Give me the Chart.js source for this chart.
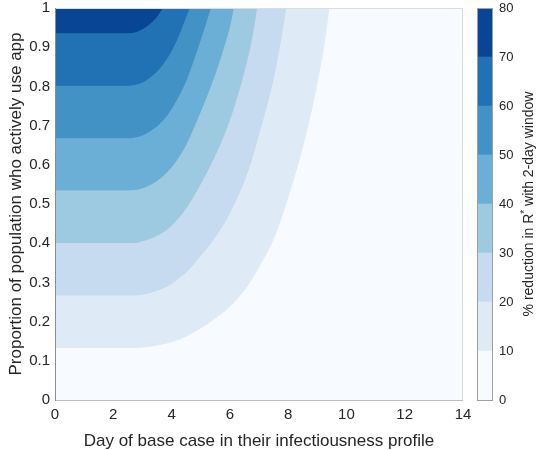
<!DOCTYPE html>
<html lang="en">
<head>
<meta charset="UTF-8">
<title>App use and reduction in R*</title>
<script src="https://cdn.jsdelivr.net/npm/chart.js"></script>
<style>
  body { margin: 0; background: #fff; }
  .wrap { position: relative; width: 536px; height: 450px; overflow: hidden; }
  #contour { position: absolute; left: 0; top: -5px; }
  #scaleBar { position: absolute; left: 470px; top: -5px; }
</style>
</head>
<body>
<div class="wrap">
  <canvas id="contour" width="479" height="455"></canvas>
  <canvas id="scaleBar" width="66" height="455"></canvas>
</div>
<script>
// axis ticks
const dayTicks = [0, 2, 4, 6, 8, 10, 12, 14];
const shareTicks = [0, 0.1, 0.2, 0.3, 0.4, 0.5, 0.6, 0.7, 0.8, 0.9, 1];
const levelTicks = [0, 10, 20, 30, 40, 50, 60, 70, 80];

// one colour per 10% band, lowest first
const bandColors = ['#f7fbff', '#deebf7', '#c6dbef', '#9ecae1', '#6baed6', '#4292c6', '#2171b5', '#084594'];

// contour edges: share of app users at which each % level is reached, by day
const edgeLevels = [10, 20, 30, 40, 50, 60, 70];
const edgeDays = [0, 2.5, 2.75, 3, 3.25, 3.5, 3.75, 4, 4.25, 4.5, 4.75, 5, 5.25, 5.5, 5.75,
                  6, 6.25, 6.5, 6.75, 7, 7.25, 7.5, 7.75, 8, 8.25, 8.5, 8.75, 9, 9.25];
const edge10 = [0.134, 0.134, 0.134, 0.135, 0.137, 0.140, 0.144, 0.149, 0.155, 0.163, 0.173, 0.184, 0.196, 0.209, 0.223,
                0.239, 0.259, 0.281, 0.308, 0.341, 0.374, 0.412, 0.462, 0.519, 0.580, 0.647, 0.724, 0.812, 0.917];
const edge20 = [0.268, 0.268, 0.268, 0.270, 0.274, 0.280, 0.287, 0.297, 0.311, 0.327, 0.347, 0.369, 0.392, 0.417, 0.445,
                0.478, 0.517, 0.561, 0.615, 0.681, 0.748, 0.824, 0.923];
const edge30 = [0.402, 0.402, 0.402, 0.406, 0.412, 0.420, 0.431, 0.446, 0.466, 0.490, 0.520, 0.553, 0.588, 0.626, 0.668,
                0.717, 0.775, 0.842, 0.923];
const edge40 = [0.536, 0.536, 0.537, 0.541, 0.549, 0.560, 0.575, 0.595, 0.621, 0.653, 0.694, 0.738, 0.784, 0.834, 0.891,
                0.956];
const edge50 = [0.669, 0.669, 0.671, 0.676, 0.686, 0.699, 0.718, 0.744, 0.777, 0.816, 0.867, 0.922, 0.980];
const edge60 = [0.803, 0.803, 0.805, 0.811, 0.823, 0.839, 0.862, 0.892, 0.932, 0.980];
const edge70 = [0.937, 0.937, 0.939, 0.947, 0.960, 0.979];
// day at which each edge reaches 100% app use
const edgeTopDay = [9.4, 7.92, 6.92, 6.12, 5.33, 4.61, 3.68];

const edges = [edge10, edge20, edge30, edge40, edge50, edge60, edge70];

Chart.defaults.font.family = "'Liberation Sans', Arial, Helvetica, sans-serif";
Chart.defaults.color = '#262626';

// box round the plotting area
const framePlugin = {
  id: 'frame',
  afterDatasetsDraw(chart, args, opts) {
    const { ctx, chartArea: a } = chart;
    const side = (color, x1, y1, x2, y2) => {
      ctx.strokeStyle = color;
      ctx.beginPath();
      ctx.moveTo(x1, y1);
      ctx.lineTo(x2, y2);
      ctx.stroke();
    };
    ctx.save();
    ctx.lineWidth = 1;
    side(opts.top, a.left, a.top + 0.5, a.right, a.top + 0.5);
    side(opts.right, a.right - 0.5, a.top, a.right - 0.5, a.bottom + 1);
    side(opts.bottom, a.left, a.bottom + 0.5, a.right, a.bottom + 0.5);
    side(opts.left, a.left + 0.5, a.top, a.left + 0.5, a.bottom + 1);
    ctx.restore();
  }
};

// base band, then each edge filled up to the top
const datasets = [{
  data: [{ x: dayTicks[0], y: 0 }, { x: dayTicks[dayTicks.length - 1], y: 0 }],
  fill: 'end',
  backgroundColor: bandColors[0],
  borderColor: bandColors[0],
  order: edges.length + 1
}];
edges.forEach((edge, i) => {
  const pts = edge.map((y, j) => ({ x: edgeDays[j], y: y }));
  pts.push({ x: edgeTopDay[i], y: 1 });
  datasets.push({
    label: edgeLevels[i] + '%',
    data: pts,
    fill: 'end',
    backgroundColor: bandColors[i + 1],
    borderColor: bandColors[i + 1],
    order: edges.length - i
  });
});

new Chart(document.getElementById('contour'), {
  type: 'line',
  data: { datasets: datasets },
  options: {
    responsive: false,
    animation: false,
    layout: { padding: { top: 13, right: 16, left: 0, bottom: 0 } },
    elements: {
      point: { radius: 0 },
      line: { borderWidth: 1, cubicInterpolationMode: 'monotone' }
    },
    datasets: { line: { clip: 0 } },
    plugins: {
      legend: { display: false },
      tooltip: { enabled: false },
      frame: { top: '#dcdcdc', right: '#dcdcdc', bottom: '#bdbdbd', left: '#8c8c8c' }
    },
    scales: {
      x: {
        type: 'linear',
        min: 0,
        max: 14,
        afterBuildTicks: s => { s.ticks = dayTicks.map(v => ({ value: v })); },
        afterFit: s => { s.height = 50; },
        grid: { display: false, drawTicks: false },
        border: { display: false },
        ticks: { font: { size: 15, lineHeight: 1 }, padding: 7, maxRotation: 0, callback: v => String(v) },
        title: {
          display: true,
          text: 'Day of base case in their infectiousness profile',
          font: { size: 17, lineHeight: 1 },
          padding: { top: 0, bottom: 0 }
        }
      },
      y: {
        min: 0,
        max: 1,
        afterBuildTicks: s => { s.ticks = shareTicks.map(v => ({ value: v })); },
        afterFit: s => { s.width = 55; },
        grid: { display: false, drawTicks: false },
        border: { display: false },
        ticks: { font: { size: 15, lineHeight: 1 }, padding: 5, callback: v => String(v) },
        title: {
          display: true,
          text: 'Proportion of population who actively use app',
          font: { size: 17, lineHeight: 1 },
          padding: { top: 8, bottom: 0 }
        }
      }
    }
  },
  plugins: [framePlugin]
});

// colour bar with its rotated label
const barTitlePlugin = {
  id: 'barTitle',
  afterDraw(chart, args, opts) {
    const ctx = chart.ctx;
    const a = chart.chartArea;
    ctx.save();
    ctx.fillStyle = '#262626';
    ctx.textBaseline = 'alphabetic';
    ctx.textAlign = 'left';
    let total = 0;
    opts.parts.forEach(p => {
      ctx.font = p.size + "px 'Liberation Sans', Arial, sans-serif";
      p.w = ctx.measureText(p.text).width;
      total += p.w;
    });
    ctx.translate(opts.x, (a.top + a.bottom) / 2);
    ctx.rotate(-Math.PI / 2);
    let pos = -total / 2;
    opts.parts.forEach(p => {
      ctx.font = p.size + "px 'Liberation Sans', Arial, sans-serif";
      ctx.fillText(p.text, pos, p.rise);
      pos += p.w;
    });
    ctx.restore();
  }
};

const bandSets = bandColors.map((c, i) => ({
  data: [levelTicks[i + 1] - levelTicks[i]],
  backgroundColor: c,
  borderWidth: 0,
  barPercentage: 1,
  categoryPercentage: 1
}));

new Chart(document.getElementById('scaleBar'), {
  type: 'bar',
  data: { labels: [''], datasets: bandSets },
  options: {
    responsive: false,
    animation: false,
    layout: { padding: { top: 13, left: 7, right: 0, bottom: 50 } },
    plugins: {
      legend: { display: false },
      tooltip: { enabled: false },
      frame: { top: '#a0a0a0', right: '#a0a0a0', bottom: '#a0a0a0', left: '#a0a0a0' },
      barTitle: {
        x: 63,
        parts: [
          { text: '% reduction in R', size: 14, rise: 0 },
          { text: '*', size: 10, rise: -5 },
          { text: ' with 2-day window', size: 14, rise: 0 }
        ]
      }
    },
    scales: {
      x: { display: false, stacked: true },
      y: {
        position: 'right',
        stacked: true,
        min: 0,
        max: 80,
        afterBuildTicks: s => { s.ticks = levelTicks.map(v => ({ value: v })); },
        afterFit: s => { s.width = 43; },
        grid: { display: false, drawTicks: false },
        border: { display: false },
        ticks: { font: { size: 13, lineHeight: 1 }, padding: 6, callback: v => String(v) }
      }
    }
  },
  plugins: [framePlugin, barTitlePlugin]
});
</script>
</body>
</html>
